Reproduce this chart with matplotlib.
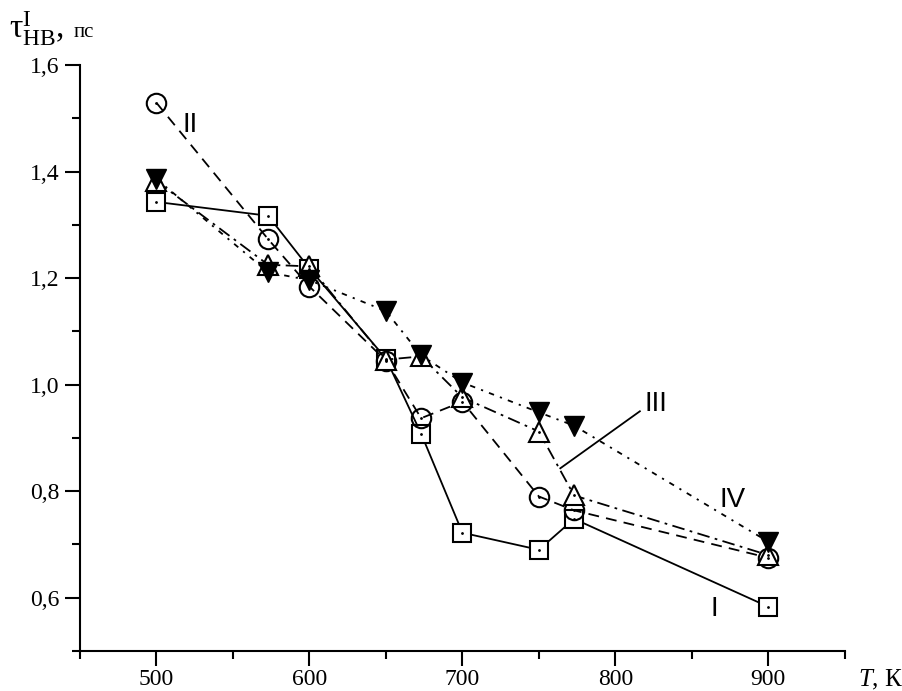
import matplotlib
matplotlib.use('Agg')
import matplotlib.pyplot as plt
from matplotlib.ticker import MultipleLocator, FuncFormatter

### DATA
T = [500, 573, 600, 650, 673, 700, 750, 773, 900]
tau_I = [1.343, 1.317, 1.218, 1.049, 0.908, 0.722, 0.690, 0.748, 0.583]
tau_II = [1.529, 1.273, 1.184, 1.045, 0.937, 0.968, 0.790, 0.764, 0.675]
tau_III = [1.382, 1.225, 1.222, 1.047, 1.053, 0.976, 0.912, 0.792, 0.680]
tau_IV = [1.386, 1.211, 1.196, 1.138, 1.055, 1.004, 0.948, 0.923, 0.705]

plt.rcParams['font.family'] = ['Liberation Serif', 'DejaVu Serif']
plt.rcParams['mathtext.fontset'] = 'custom'
plt.rcParams['mathtext.rm'] = 'Liberation Serif'
plt.rcParams['mathtext.it'] = 'Liberation Serif:italic'

fig = plt.figure(figsize=(9.03, 6.91), dpi=100)
ax = fig.add_axes([0.0886, 0.0579, 0.847, 0.848])

ms = 13
dot = dict(ls='none', marker='.', ms=2, color='black', zorder=4)
# I - squares, solid
ax.plot(T, tau_I, '-', color='black', lw=1.3, marker='s', ms=ms,
        mfc='white', mec='black', mew=1.5, zorder=3)
ax.plot(T, tau_I, **dot)
# II - circles, dashed
ax.plot(T, tau_II, color='black', lw=1.3, ls=(0, (6, 4)), marker='o',
        ms=ms + 1, mfc='none', mec='black', mew=1.5, zorder=3)
ax.plot(T, tau_II, **dot)
# III - open triangles, dash-dot
ax.plot(T, tau_III, color='black', lw=1.3, ls=(0, (7, 3, 1.5, 3)), marker='^',
        ms=ms + 2, mfc='white', mec='black', mew=1.5, zorder=3)
ax.plot(T, tau_III, **dot)
# IV - filled down triangles, short dash-dot
ax.plot(T, tau_IV, color='black', lw=1.3, ls=(0, (3, 3.5, 1.2, 3.5)), marker='v',
        ms=ms + 2, mfc='black', mec='black', zorder=3)

# curve labels
lab = dict(fontsize=20, family='Liberation Sans', color='black')
ax.text(517, 1.475, 'II', **lab)
ax.text(819, 0.950, 'III', **lab)
ax.text(868, 0.770, 'IV', **lab)
ax.text(862, 0.565, 'I', **lab)
ax.plot([764, 816], [0.843, 0.950], color='black', lw=1.3)

ax.set_xlim(450, 950)
ax.set_ylim(0.5, 1.6)
for s in ['top', 'right']:
    ax.spines[s].set_visible(False)
for s in ['left', 'bottom']:
    ax.spines[s].set_linewidth(1.5)

ax.xaxis.set_major_locator(MultipleLocator(100))
ax.xaxis.set_minor_locator(MultipleLocator(50))
ax.yaxis.set_major_locator(MultipleLocator(0.2))
ax.yaxis.set_minor_locator(MultipleLocator(0.1))
ax.yaxis.set_major_formatter(FuncFormatter(lambda v, p: f'{v:.1f}'.replace('.', ',')))
ax.tick_params(which='major', length=11, width=1.5, labelsize=17)
ax.tick_params(which='minor', length=6, width=1.5)
ax.tick_params(axis='x', which='major', pad=2)
ax.tick_params(axis='y', which='major', pad=4)

fig.text(0.010, 0.945, r'$\mathrm{\tau}^{\mathrm{I}}_{\mathrm{НВ}}$' + ',', fontsize=24,
         va='baseline')
fig.text(0.082, 0.947, 'пс', fontsize=15, va='baseline')
fig.text(0.950, 0.007, r'$\mathit{T}$, К', fontsize=18, va='baseline')

fig.savefig('out.png', dpi=100)
